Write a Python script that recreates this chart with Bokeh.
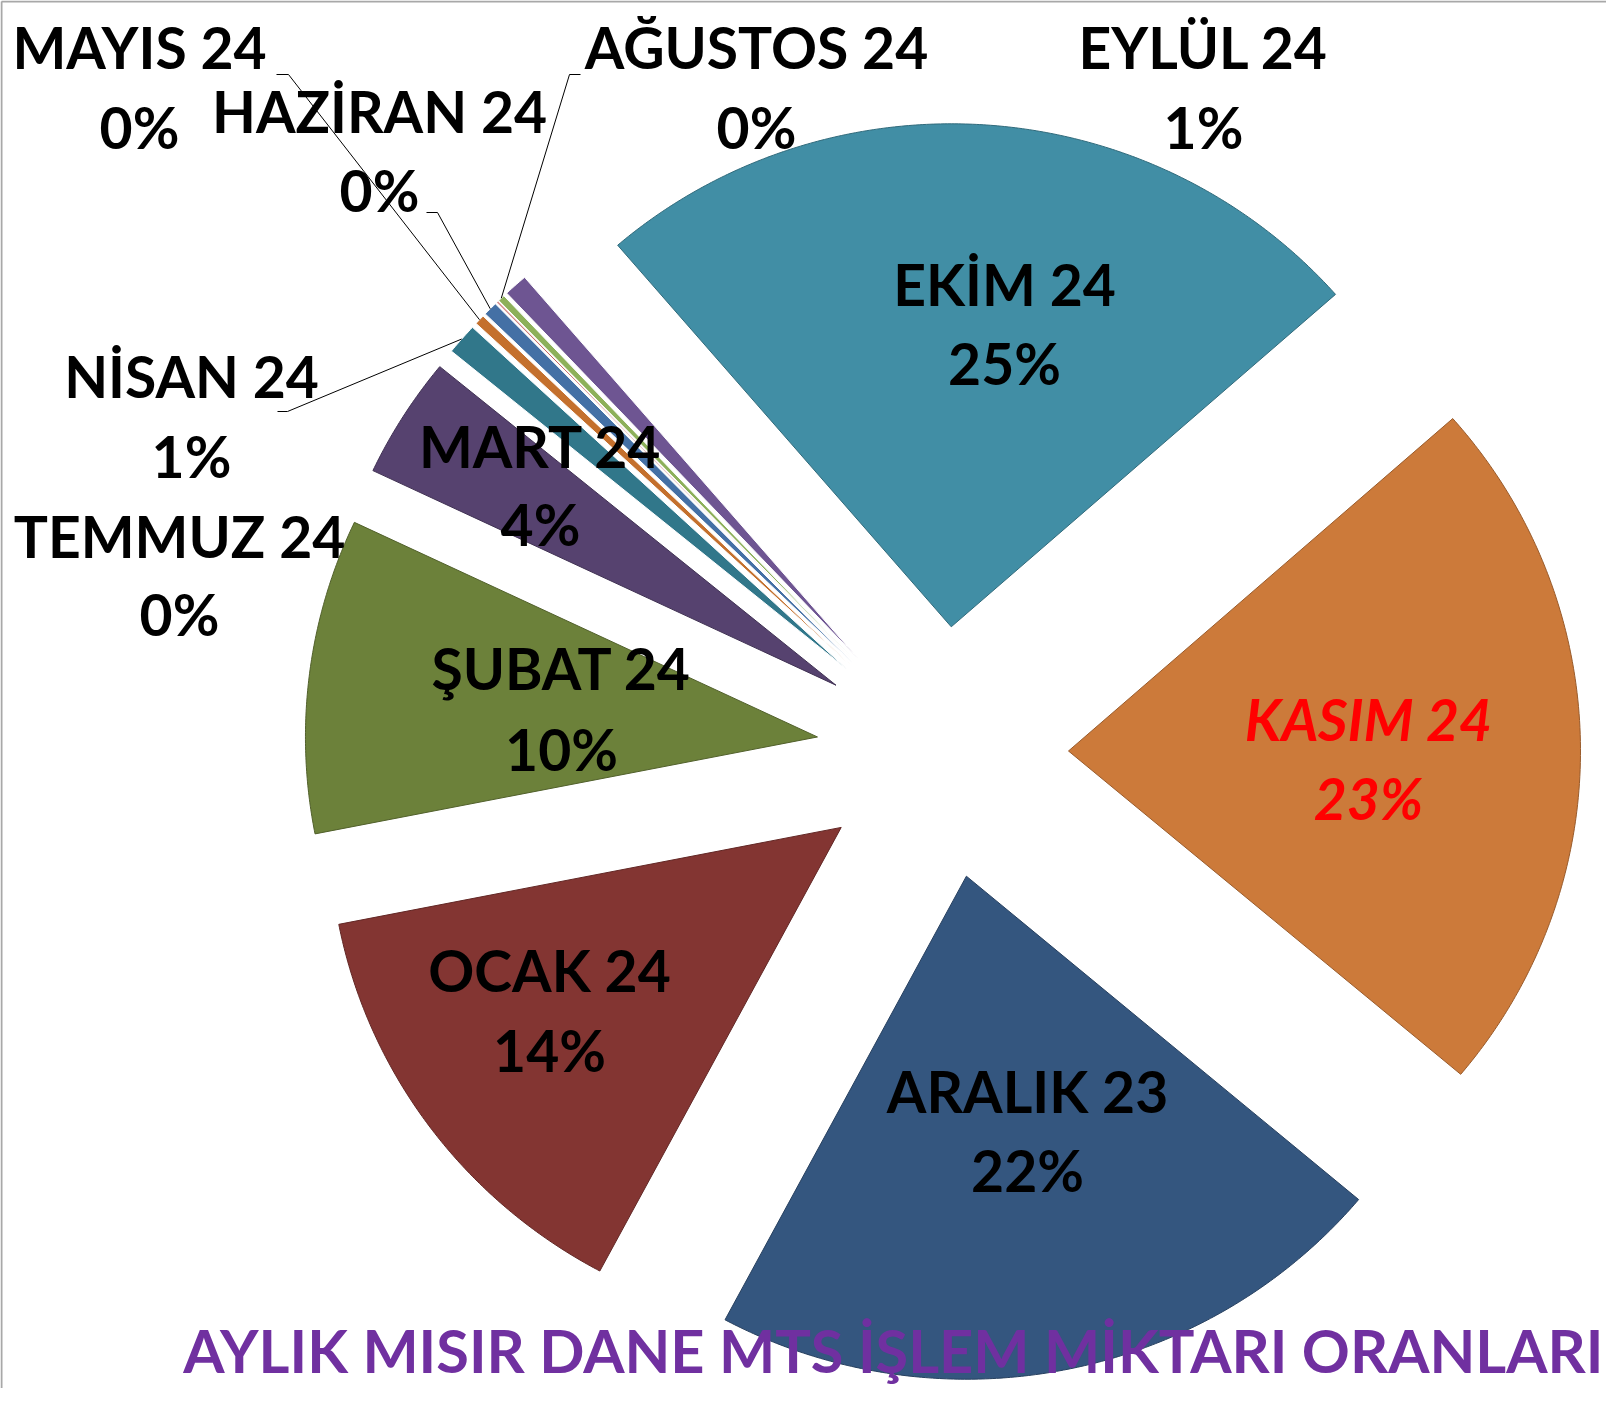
import math
from bokeh.plotting import figure
from bokeh.models import Range1d
from bokeh.embed import file_html
from bokeh.resources import INLINE
from bokeh.core.properties import value

# ---------------- data ----------------
months = ["ARALIK 23", "OCAK 24", "ŞUBAT 24", "MART 24", "NİSAN 24", "MAYIS 24",
          "HAZİRAN 24", "TEMMUZ 24", "AĞUSTOS 24", "EYLÜL 24", "EKİM 24", "KASIM 24"]
shares = [21.7, 14.1, 10.1, 3.9, 1.0, 0.32, 0.45, 0.05, 0.22, 0.75, 24.8, 22.6]
colors = ["#34567F", "#833532", "#6C813A", "#56426F", "#31778A", "#C4702D",
          "#4470A5", "#C0504D", "#8DB05A", "#6E5592", "#418EA5", "#CC7A3A"]
title_text = "AYLIK MISIR DANE MTS İŞLEM MİKTARI ORANLARI"

# ---------------- layout (pixel frame, y downwards) ----------------
W, H = 1606, 1388
REF_H = 1404
CX, CY = 942, 752
RX, RY = 512, 503
EXPLODE = 126
FIRST_ANGLE = 130.0  # degrees clockwise from 12 o'clock
LABEL_PX = 57
TITLE_PX = 59.5
BASELINE_FIX = 0.41  # em; where the renderer puts the alphabetic baseline

# label centre x, baseline of name line, baseline of percent line
label_pos = {
    "ARALIK 23": (1027, 1114, 1193),
    "OCAK 24": (549, 993, 1073),
    "ŞUBAT 24": (561, 691, 772),
    "MART 24": (540, 469, 547),
    "NİSAN 24": (191, 399, 479),
    "MAYIS 24": (139, 70, 150),
    "HAZİRAN 24": (379, 134, 213),
    "TEMMUZ 24": (179, 559, 637),
    "AĞUSTOS 24": (756, 70, 150),
    "EYLÜL 24": (1203, 70, 150),
    "EKİM 24": (1004, 307, 386),
    "KASIM 24": (1368, 742, 821),
}
# leader: label-side anchor and stub end
leaders = {
    "MAYIS 24": ((276, 74), (288, 74)),
    "HAZİRAN 24": ((426, 212), (437, 212)),
    "AĞUSTOS 24": ((580, 74), (569, 74)),
    "NİSAN 24": ((277, 411), (287, 411)),
}
TITLE_RIGHT, TITLE_BASE = 1603, 1374


def darker(hexc, f=0.75):
    h = hexc.lstrip("#")
    r, g, b = (int(h[i:i + 2], 16) for i in (0, 2, 4))
    return "#%02x%02x%02x" % (int(r * f), int(g * f), int(b * f))


def yd(y):
    return REF_H - y


def base_y(b, px):
    return yd(b - BASELINE_FIX * px)


total = sum(shares)
pcts = [v / total * 100 for v in shares]

p = figure(width=W, height=H, x_range=Range1d(0, W), y_range=Range1d(REF_H - H, REF_H),
           output_backend="svg", toolbar_location=None, min_border=0)
p.axis.visible = False
p.grid.visible = False
p.outline_line_color = None
p.background_fill_color = "white"
p.border_fill_color = "white"

# frame lines (top / left)
p.line([1, 1], [yd(H), yd(1)], line_color="#A8A8A8", line_width=2)
p.line([1, W], [yd(1), yd(1)], line_color="#A8A8A8", line_width=2)

pxs, pys, edge = [], [], []
mids = {}
theta = FIRST_ANGLE
for m, pc, c in zip(months, pcts, colors):
    span = pc * 3.6
    t1, t2 = theta, theta + span
    tm = math.radians((t1 + t2) / 2)
    vx = CX + EXPLODE * math.sin(tm)
    vy = CY - EXPLODE * math.cos(tm)
    mids[m] = (vx + RX * math.sin(tm), vy - RY * math.cos(tm))
    n = max(2, int(span / 0.4) + 2)
    xs_, ys_ = [vx], [yd(vy)]
    for i in range(n):
        t = math.radians(t1 + span * i / (n - 1))
        xs_.append(vx + RX * math.sin(t))
        ys_.append(yd(vy - RY * math.cos(t)))
    pxs.append(xs_)
    pys.append(ys_)
    edge.append(darker(c) if pc > 2 else "white")
    theta = t2

p.patches(pxs, pys, fill_color=colors, line_color=edge, line_width=1.0)

# leader lines
for m, (a, b) in leaders.items():
    ex, ey = mids[m]
    p.line([a[0], b[0], ex], [yd(a[1]), yd(b[1]), yd(ey)], line_color="black", line_width=1)

# labels
for m, pc in zip(months, pcts):
    x, b1, b2 = label_pos[m]
    is_k = m == "KASIM 24"
    style = "bold italic" if is_k else "bold"
    col = "#FF0000" if is_k else "black"
    p.text(x=[x, x], y=[base_y(b1, LABEL_PX), base_y(b2, LABEL_PX)], text=[m, f"{round(pc)}%"],
           text_align="center", text_baseline="alphabetic",
           text_font=value("Lato"), text_font_style=style,
           text_font_size=f"{LABEL_PX}px", text_color=col)

# title
p.text(x=[TITLE_RIGHT], y=[base_y(TITLE_BASE, TITLE_PX)], text=[title_text], text_align="right",
       text_baseline="alphabetic", text_font=value("Lato"), text_font_style="bold",
       text_font_size=f"{TITLE_PX}px", text_color="#7030A0")

open("out.html", "w").write(file_html(p, INLINE))
